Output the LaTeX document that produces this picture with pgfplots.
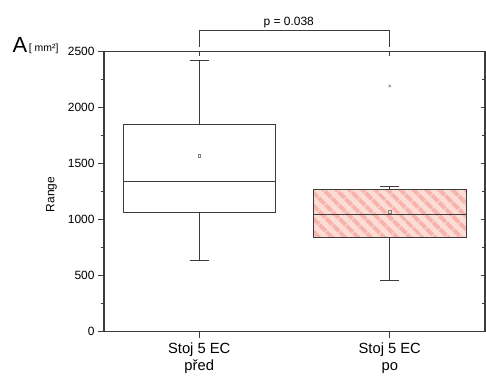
\documentclass[border=0pt]{standalone}
\usepackage{fontspec}
\setmainfont{Liberation Sans}
\usepackage{pgfplots}
\pgfplotsset{compat=1.18}
\usepgfplotslibrary{statistics}
\usetikzlibrary{patterns.meta}
\definecolor{pinkdark}{RGB}{246,180,172}
\definecolor{pinklight}{RGB}{252,221,214}
\definecolor{axgray}{RGB}{60,60,60}
\begin{document}
\begin{tikzpicture}[x=1bp,y=1bp]
\useasboundingbox (0,0) rectangle (486,383);
\begin{axis}[
  at={(104bp,51.3bp)}, anchor=south west,
  scale only axis, width=381bp, height=280bp,
  xmin=0.5, xmax=2.5, ymin=0, ymax=2500,
  xtick={1,2}, xticklabels={{Stoj 5 EC\\před},{Stoj 5 EC\\po}},
  xticklabel style={align=center, font=\fontsize{14.8}{17}\selectfont, yshift=-2bp},
  ytick={0,500,...,2500}, minor ytick={250,750,...,2250},
  tick align=outside, xtick pos=bottom, ytick pos=left,
  major tick length=6bp, minor tick length=3.5bp,
  yticklabel style={font=\fontsize{12}{14}\selectfont},
  /pgf/number format/assume math mode=true,
  /pgf/number format/1000 sep={},
  ylabel={Range},
  ylabel style={font=\fontsize{12}{14}\selectfont, at={(axis description cs:-0.138,0.49)}, anchor=center},
  axis line style={axgray, line width=1.2pt},
  tick style={axgray, line width=0.9pt},
  clip=false,
  boxplot/draw direction=y,
  boxplot/box extend=0.8,
  boxplot/whisker extend=0.1,
]
\addplot[boxplot prepared={lower whisker=634, lower quartile=1062, median=1343,
  upper quartile=1852, upper whisker=2420, draw position=1},
  draw=axgray, line width=0.9pt, fill=white] coordinates {};
\addplot[boxplot prepared={lower whisker=462, lower quartile=839, median=1051,
  upper quartile=1271, upper whisker=1295, draw position=2},
  draw=axgray, line width=0.9pt,
  boxplot/every box/.style={preaction={fill=pinklight},
    preaction={pattern={Lines[angle=-45,distance=10bp,line width=4.5bp]}, pattern color=pinkdark}}] coordinates {};
\addplot[only marks, mark=square, mark size=1.3bp, gray, line width=0.4pt] coordinates {(1,1569) (2,1069)};
\addplot[only marks, mark=x, mark size=1.8bp, gray, line width=0.5pt] coordinates {(2,2194)};
\draw[axgray, line width=0.9pt] (axis cs:1,2542) -- (axis cs:1,2694) -- (axis cs:2,2694) -- (axis cs:2,2542);
\node[font=\fontsize{12}{14}\selectfont, anchor=base, inner sep=0pt] at (axis cs:1.47,2732) {p = 0.038};
\end{axis}
\begin{axis}[
  at={(104bp,51.3bp)}, anchor=south west,
  scale only axis, width=381bp, height=280bp,
  xmin=0.5, xmax=2.5, ymin=0, ymax=2500,
  xtick={1,2}, xticklabels={}, yticklabels={},
  ytick={0,500,...,2500}, minor ytick={250,750,...,2250},
  tick align=inside, xtick pos=top, ytick pos=right,
  major tick length=4bp, minor tick length=3bp,
  axis line style={axgray, line width=1.2pt},
  tick style={axgray, line width=0.9pt},
]
\end{axis}
\node[anchor=base west, inner sep=0pt] at (12.5,330.3) {\fontsize{22}{22}\selectfont A\hspace{1.5bp}\raisebox{1.5bp}{\fontsize{10.5}{10.5}\selectfont[ mm²]}};
\end{tikzpicture}
\end{document}
